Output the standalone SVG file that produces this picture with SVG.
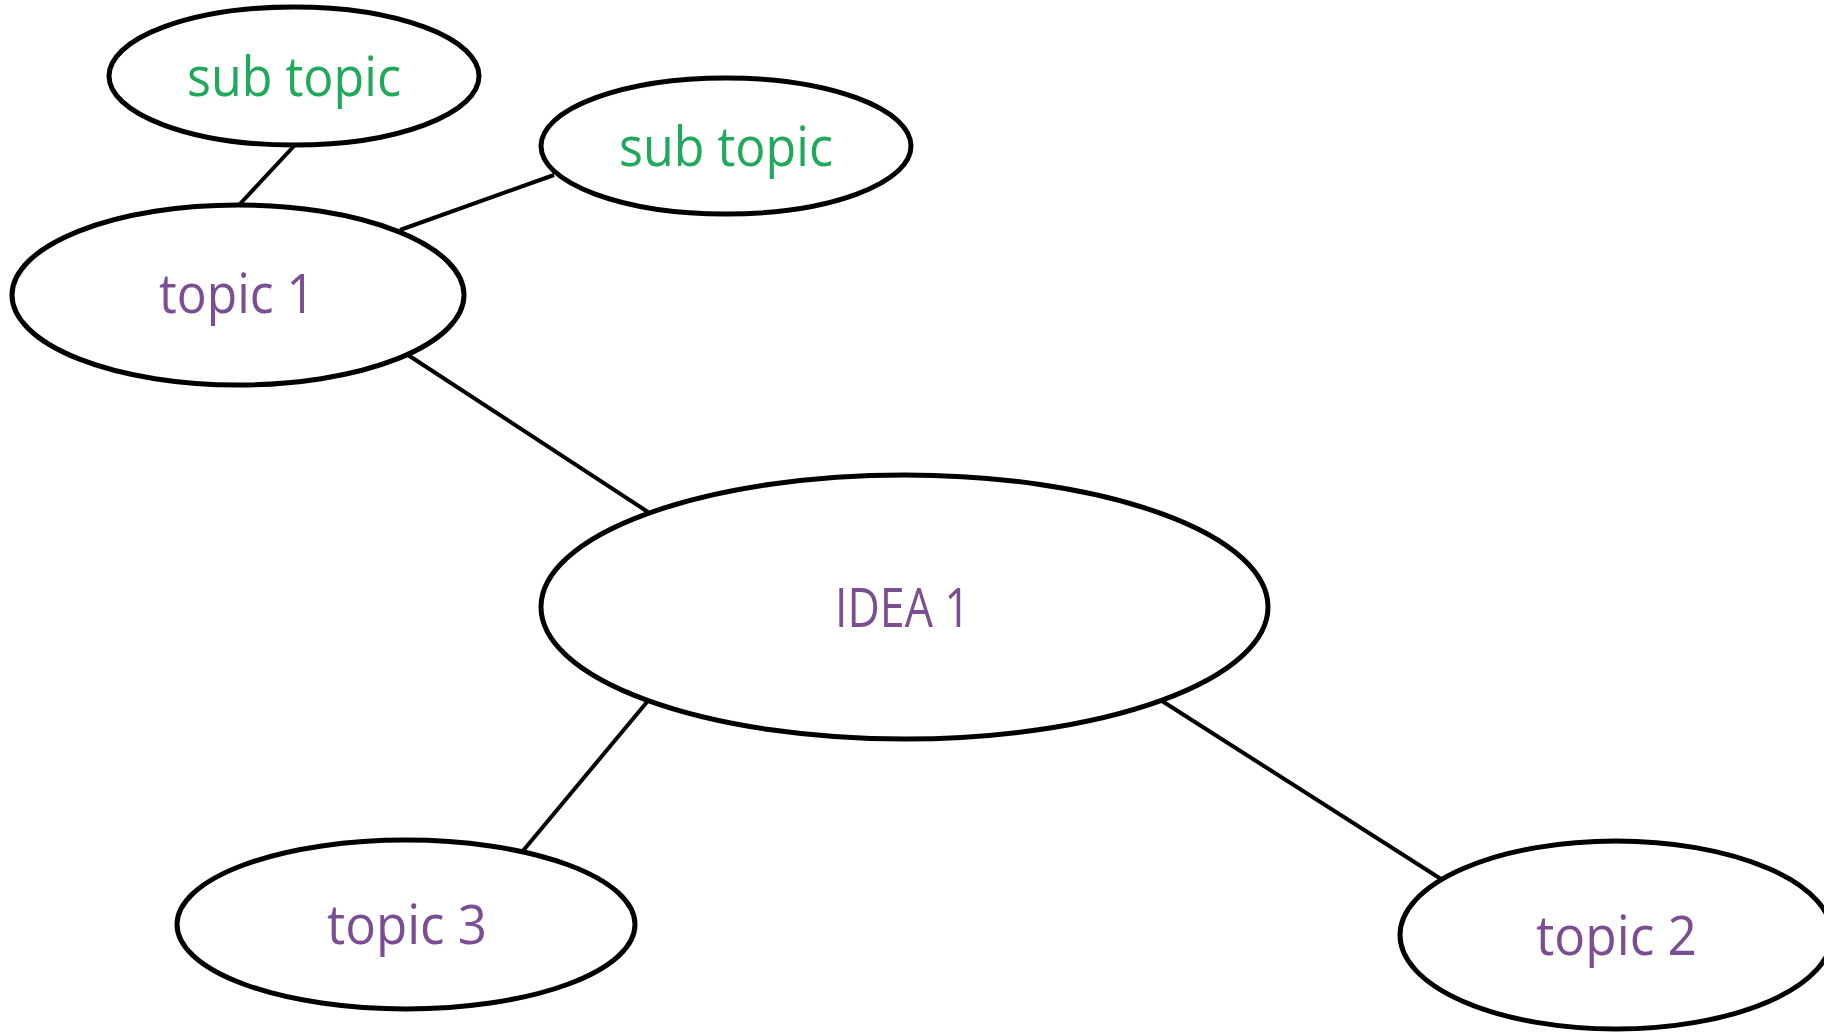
<svg xmlns="http://www.w3.org/2000/svg" width="1824" height="1033" viewBox="0 0 1824 1033">
<style>
.node{fill:#ffffff;stroke:#000000;stroke-width:5}
.edge{stroke:#000000;stroke-width:4;fill:none}
.lbl{font-family:"Open Sans","Noto Sans","DejaVu Sans",sans-serif;font-size:54px;text-anchor:middle}
.sub{fill:#21a95b}
.top{fill:#7b4e93}
</style>
<rect width="1824" height="1033" fill="#ffffff"/>
<g id="connectors">
<line class="edge" x1="294" y1="146" x2="239" y2="205"/>
<line class="edge" x1="554" y1="175" x2="400" y2="230"/>
<line class="edge" x1="408" y1="355" x2="648" y2="512"/>
<line class="edge" x1="647" y1="702" x2="522" y2="852"/>
<line class="edge" x1="1162" y1="701" x2="1441" y2="879"/>
</g>
<g id="sub-topic-1">
<ellipse class="node" cx="294" cy="76" rx="185" ry="69"/>
<text class="lbl sub" x="294" y="96" textLength="214" lengthAdjust="spacingAndGlyphs">sub topic</text>
</g>
<g id="sub-topic-2">
<ellipse class="node" cx="726" cy="146" rx="185" ry="68"/>
<text class="lbl sub" x="726" y="166" textLength="214" lengthAdjust="spacingAndGlyphs">sub topic</text>
</g>
<g id="topic-1">
<ellipse class="node" cx="238" cy="295" rx="226" ry="90"/>
<text class="lbl top" x="237" y="313" textLength="156" lengthAdjust="spacingAndGlyphs">topic 1</text>
</g>
<g id="idea-1">
<ellipse class="node" cx="904.5" cy="607" rx="363.5" ry="132"/>
<text class="lbl top" x="902.5" y="627" font-size="56" textLength="135" lengthAdjust="spacingAndGlyphs">IDEA 1</text>
</g>
<g id="topic-3">
<ellipse class="node" cx="406" cy="924.5" rx="229" ry="84.5"/>
<text class="lbl top" x="407" y="944" textLength="160" lengthAdjust="spacingAndGlyphs">topic 3</text>
</g>
<g id="topic-2">
<ellipse class="node" cx="1616" cy="935" rx="216" ry="94"/>
<text class="lbl top" x="1616.5" y="955" textLength="161" lengthAdjust="spacingAndGlyphs">topic 2</text>
</g>
</svg>
